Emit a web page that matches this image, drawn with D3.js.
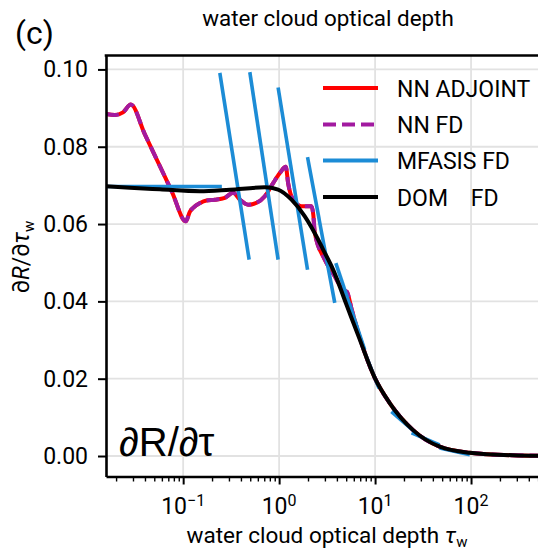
<!DOCTYPE html>
<html>
<head>
<meta charset="utf-8">
<script src="https://cdn.jsdelivr.net/npm/d3@7"></script>
<style>
body { margin: 0; background: #fff; }
svg { font-family: Roboto, sans-serif; }
</style>
</head>
<body>
<script>
// values (tau on log axis, dR/dtau)
var tauNN = [0.0157, 0.0194, 0.0236, 0.0285, 0.0399, 0.0545, 0.0762, 0.1067, 0.1174, 0.1271, 0.149, 0.1753, 0.2138, 0.272, 0.332, 0.390, 0.475, 0.582, 0.710, 0.866, 1.017, 1.174, 1.241, 1.399, 1.711, 2.176, 2.27, 2.354, 2.992, 3.80, 4.61, 5.07, 5.72, 6.93, 9.93, 14.2, 24.9, 47.2, 96.9, 272, 1000];
var nnAdjoint = [0.0885, 0.0882, 0.0889, 0.0909, 0.0832, 0.0761, 0.0684, 0.0607, 0.0632, 0.0642, 0.0654, 0.0661, 0.0663, 0.0668, 0.0681, 0.0663, 0.0650, 0.0655, 0.0672, 0.0706, 0.0732, 0.0748, 0.0706, 0.0663, 0.0646, 0.0646, 0.0624, 0.0577, 0.0508, 0.0465, 0.0430, 0.0425, 0.0378, 0.0306, 0.0202, 0.0137, 0.0067, 0.0024, 0.00085, 0.0002, 0];
var nnFD = [0.0885, 0.0882, 0.0889, 0.0909, 0.0832, 0.0761, 0.0684, 0.0607, 0.0632, 0.0642, 0.0654, 0.0661, 0.0663, 0.0668, 0.0681, 0.0663, 0.0650, 0.0655, 0.0672, 0.0706, 0.0732, 0.0748, 0.0706, 0.0663, 0.0646, 0.0646, 0.0624, 0.0577, 0.0508, 0.0465, 0.0430, 0.0425, 0.0378, 0.0306, 0.0202, 0.0137, 0.0067, 0.0024, 0.00085, 0.0002, 0];

var tauDOM = [0.0157, 0.0279, 0.0572, 0.149, 0.3065, 0.710, 0.976, 1.346, 1.852, 2.548, 2.873, 3.652, 5.04, 6.93, 9.93, 14.2, 24.9, 47.2, 96.9, 272, 1000];
var domFD = [0.0698, 0.0694, 0.0690, 0.0685, 0.0689, 0.0695, 0.0689, 0.0663, 0.0620, 0.0560, 0.0534, 0.0482, 0.0391, 0.0301, 0.0202, 0.0137, 0.0067, 0.0024, 0.00085, 0.0002, 0];

// MFASIS FD is drawn as separate straight pieces
var mfasisTau0 = [0.0157, 0.241, 0.495, 0.976, 1.977, 3.90, 7.8, 14.8, 24, 47];
var mfasisV0 = [0.0697, 0.0991, 0.0993, 0.0953, 0.0773, 0.0499, 0.0268, 0.0115, 0.0060, 0.0021];
var mfasisTau1 = [0.253, 0.487, 0.976, 1.977, 3.80, 7.8, 11, 24.7, 47, 97];
var mfasisV1 = [0.0697, 0.0508, 0.0508, 0.0482, 0.0396, 0.0275, 0.0175, 0.0067, 0.0029, 0.0003];

var yTicks = [0, 0.02, 0.04, 0.06, 0.08, 0.10];
var xMajor = [0.1, 1, 10, 100];
var xMajorExp = ["\u22121", "0", "1", "2"];
var legendNames = ["NN ADJOINT", "NN FD", "MFASIS FD", "DOM    FD"];

var W = 538, H = 552;
var pLeft = 106, pRight = 567, pTop = 55.5, pBottom = 476.5;

var svg = d3.select("body").append("svg").attr("width", W).attr("height", H);

var x = d3.scaleLog().domain([0.0157, 1000]).range([pLeft, pRight]);
var y = d3.scaleLinear().domain([-0.0053, 0.1036]).range([pBottom, pTop]);

var xMinor = [];
for (var e = -2; e < 3; e++) {
	for (var m = 2; m < 10; m++) {
		var v = m * Math.pow(10, e);
		if (v > 0.0157 && v < 1000) xMinor.push(v);
	}
}

// grid
var grid = svg.append("g").attr("stroke", "#e2e2e2").attr("stroke-width", 1.8);
grid.selectAll(".gx").data(xMajor).enter().append("line")
	.attr("x1", function(d) { return x(d); }).attr("x2", function(d) { return x(d); })
	.attr("y1", pTop).attr("y2", pBottom);
grid.selectAll(".gy").data(yTicks).enter().append("line")
	.attr("x1", pLeft).attr("x2", pRight)
	.attr("y1", function(d) { return y(d); }).attr("y2", function(d) { return y(d); });

svg.append("clipPath").attr("id", "clip").append("rect")
	.attr("x", pLeft).attr("y", pTop).attr("width", pRight - pLeft).attr("height", pBottom - pTop);

var plot = svg.append("g").attr("clip-path", "url(#clip)");

var line = d3.line()
	.x(function(d) { return x(d[0]); })
	.y(function(d) { return y(d[1]); })
	.curve(d3.curveMonotoneX);

plot.append("path").datum(d3.zip(tauNN, nnAdjoint)).attr("d", line)
	.attr("fill", "none").attr("stroke", "#ff0000").attr("stroke-width", 4);
plot.append("path").datum(d3.zip(tauNN, nnFD)).attr("d", line)
	.attr("fill", "none").attr("stroke", "#a21aa0").attr("stroke-width", 4)
	.attr("stroke-dasharray", "13,6");

var segs = d3.range(mfasisTau0.length).map(function(i) {
	return [[mfasisTau0[i], mfasisV0[i]], [mfasisTau1[i], mfasisV1[i]]];
});
plot.selectAll(".mf").data(segs).enter().append("path")
	.attr("d", d3.line().x(function(d) { return x(d[0]); }).y(function(d) { return y(d[1]); }))
	.attr("fill", "none").attr("stroke", "#1c8cd6").attr("stroke-width", 3.6);

plot.append("path").datum(d3.zip(tauDOM, domFD)).attr("d", line)
	.attr("fill", "none").attr("stroke", "#000").attr("stroke-width", 4);

// axes
var yAxis = svg.append("g").attr("transform", "translate(" + pLeft + ",0)")
	.call(d3.axisLeft(y).tickValues(yTicks).tickFormat(d3.format(".2f"))
		.tickSize(8).tickPadding(10).tickSizeOuter(0));
yAxis.selectAll("text").attr("font-size", 23).attr("fill", "#000").attr("font-family", "Roboto");
yAxis.selectAll(".tick line").attr("stroke-width", 2);

var xAxis = svg.append("g").attr("transform", "translate(0," + pBottom + ")")
	.call(d3.axisBottom(x).tickValues(xMajor).tickFormat("").tickSize(8).tickSizeOuter(0));
xAxis.selectAll(".tick line").attr("stroke-width", 2);
var xMin = svg.append("g").attr("transform", "translate(0," + pBottom + ")")
	.call(d3.axisBottom(x).tickValues(xMinor).tickFormat("").tickSize(5).tickSizeOuter(0));
xMin.selectAll(".tick line").attr("stroke-width", 1.4);
xMin.select(".domain").remove();

svg.selectAll(".domain").attr("stroke", "#000").attr("stroke-width", 2.6);
svg.append("line").attr("x1", pLeft - 1.3).attr("x2", pRight).attr("y1", pTop).attr("y2", pTop)
	.attr("stroke", "#000").attr("stroke-width", 2.6);

var xl = svg.append("g").selectAll("text").data(xMajor).enter().append("text")
	.attr("x", function(d) { return x(d); }).attr("y", 514)
	.attr("text-anchor", "middle").attr("font-size", 23);
xl.append("tspan").text("10");
xl.append("tspan").attr("font-size", 16).attr("dy", -8.5)
	.text(function(d, i) { return xMajorExp[i]; });

// legend
var legColors = ["#ff0000", "#a21aa0", "#1c8cd6", "#000"];
var legY = [88, 124.5, 160.5, 197];
var leg = svg.append("g");
legendNames.forEach(function(name, i) {
	leg.append("line").attr("x1", 323).attr("x2", 378).attr("y1", legY[i]).attr("y2", legY[i])
		.attr("stroke", legColors[i]).attr("stroke-width", 4)
		.attr("stroke-dasharray", i == 1 ? "13,6" : null);
	leg.append("text").attr("x", 397).attr("y", legY[i] + 8.5).attr("font-size", 23)
		.style("white-space", "pre").text(name);
});

// labels
svg.append("text").attr("x", 328).attr("y", 26).attr("text-anchor", "middle")
	.attr("font-size", 22.4).text("water cloud optical depth");
svg.append("text").attr("x", 15).attr("y", 44).attr("font-size", 32).text("(c)");

var xt = svg.append("text").attr("x", 327).attr("y", 543).attr("text-anchor", "middle")
	.attr("font-size", 22.5);
xt.append("tspan").text("water cloud optical depth ");
xt.append("tspan").attr("font-style", "italic").text("\u03c4");
xt.append("tspan").attr("font-size", 15).attr("dy", 4).text("w");

var yt = svg.append("text").attr("transform", "translate(29,257) rotate(-90)")
	.attr("text-anchor", "middle").attr("font-size", 23);
yt.append("tspan").text("\u2202");
yt.append("tspan").attr("font-style", "italic").text("R");
yt.append("tspan").text("/\u2202");
yt.append("tspan").attr("font-style", "italic").text("\u03c4");
yt.append("tspan").attr("font-size", 15).attr("dy", 5).text("w");

svg.append("text").attr("x", 119).attr("y", 456).attr("font-family", "Liberation Sans, sans-serif")
	.attr("font-size", 40).text("\u2202R/\u2202\u03c4");
</script>
</body>
</html>
